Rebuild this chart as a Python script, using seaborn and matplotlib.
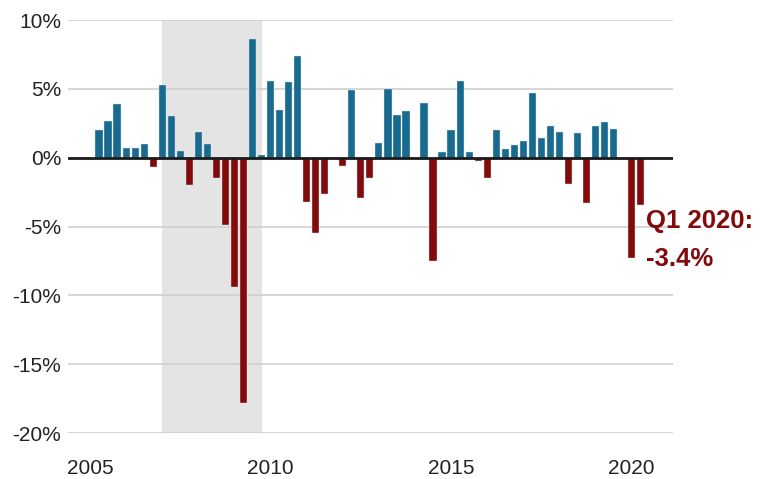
import matplotlib
matplotlib.use("Agg")
import matplotlib.pyplot as plt
import seaborn as sns
import numpy as np
import pandas as pd

# quarterly % change, Q1 2005 .. Q1 2020
years = [2005] * 4 + [2006] * 4 + [2007] * 4 + [2008] * 4 + [2009] * 4 + \
        [2010] * 4 + [2011] * 4 + [2012] * 4 + [2013] * 4 + [2014] * 4 + \
        [2015] * 4 + [2016] * 4 + [2017] * 4 + [2018] * 4 + [2019] * 4 + [2020]
quarters = [1, 2, 3, 4] * 15 + [1]
values = [
    2.0, 2.7, 3.9, 0.7,
    0.7, 1.0, -0.7, 5.3,
    3.0, 0.5, -2.0, 1.9,
    1.0, -1.5, -4.9, -9.4,
    -17.8, 8.6, 0.2, 5.6,
    3.5, 5.5, 7.4, -3.2,
    -5.5, -2.6, 0.0, -0.6,
    4.9, -2.9, -1.5, 1.1,
    5.0, 3.1, 3.4, -0.1,
    4.0, -7.5, 0.4, 2.0,
    5.6, 0.4, -0.2, -1.5,
    2.0, 0.6, 0.9, 1.2,
    4.7, 1.4, 2.3, 1.9,
    -1.9, 1.8, -3.3, 2.3,
    2.6, 2.1, 0.0, -7.3,
    -3.4,
]
recession = (2007.0, 2009.75)
y_ticks = [10, 5, 0, -5, -10, -15, -20]
x_ticks = [2005, 2010, 2015, 2020]

BLUE = "#186a8e"
RED = "#820a0a"

df = pd.DataFrame({"year": years, "q": quarters, "value": values})
df["x"] = df["year"] + (df["q"] - 1) * 0.25 + 0.25
df["sign"] = np.where(df["value"] >= 0, "pos", "neg")

sns.set_style("white")
plt.rcParams["font.family"] = ["Liberation Sans", "DejaVu Sans"]

fig = plt.figure(figsize=(7.69, 4.79), dpi=100)
ax = fig.add_axes([0.0884, 0.096, 0.787, 0.862])

ax.axvspan(recession[0], recession[1], color="#e4e4e4", zorder=0, lw=0)
for t in y_ticks:
    if t != 0:
        ax.axhline(t, color="#cfcfcf", lw=1.2, zorder=0.5)

sns.barplot(data=df, x="x", y="value", hue="sign", palette={"pos": BLUE, "neg": RED},
            native_scale=True, dodge=False, width=0.8, legend=False, saturation=1,
            edgecolor="#dde6ec", linewidth=0.3, ax=ax, zorder=2)

ax.axhline(0, color="#1a1a1a", lw=2, zorder=3)

ax.set_xlim(2004.39, 2021.15)
ax.set_ylim(-20, 10)
ax.set_yticks(y_ticks)
ax.set_yticklabels([f"{t}%" for t in y_ticks])
ax.set_xticks(x_ticks)
ax.set_xticklabels([str(t) for t in x_ticks])
ax.tick_params(axis="y", length=0, pad=5, labelsize=15, labelcolor="#222222")
ax.tick_params(axis="x", length=0, pad=19, labelsize=15, labelcolor="#222222")
ax.set_xlabel("")
ax.set_ylabel("")
for s in ax.spines.values():
    s.set_visible(False)

ax.text(2020.39, -4.62, "Q1 2020:", color=RED, fontsize=18.5, fontweight="bold",
        ha="left", va="center", clip_on=False)
ax.text(2020.39, -7.39, "-3.4%", color=RED, fontsize=18.5, fontweight="bold",
        ha="left", va="center", clip_on=False)

fig.savefig("out.png", dpi=100)
